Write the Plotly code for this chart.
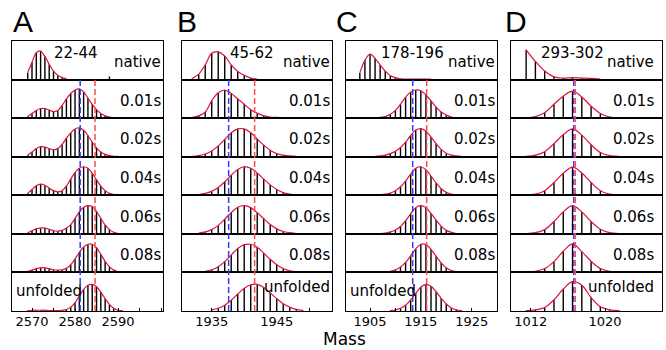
import plotly.graph_objects as go

# ---------------- data ----------------
row_names = ["native", "0.01s", "0.02s", "0.04s", "0.06s", "0.08s", "unfolded"]
peptides = ["22-44", "45-62", "178-196", "293-302"]
letters = ["A", "B", "C", "D"]

# Panel A (22-44)
A_mass = list(range(2567, 2593))
A_native = [0, 0, 0.18, 0.45, 0.70, 0.74, 0.60, 0.40, 0.22, 0.11, 0.05, 0.02, 0, 0, 0, 0, 0, 0, 0, 0, 0, 0, 0, 0, 0, 0]
A_001 = [0, 0, 0.04, 0.12, 0.20, 0.25, 0.25, 0.21, 0.17, 0.20, 0.33, 0.50, 0.64, 0.73, 0.76, 0.68, 0.52, 0.36, 0.22, 0.12, 0.06, 0.03, 0.01, 0.01, 0.01, 0]
A_002 = [0, 0, 0.04, 0.12, 0.21, 0.26, 0.25, 0.21, 0.18, 0.21, 0.32, 0.48, 0.62, 0.72, 0.75, 0.69, 0.55, 0.38, 0.23, 0.12, 0.06, 0.03, 0.01, 0.01, 0, 0]
A_004 = [0, 0, 0.05, 0.15, 0.25, 0.29, 0.26, 0.19, 0.12, 0.09, 0.12, 0.24, 0.42, 0.59, 0.70, 0.74, 0.70, 0.57, 0.40, 0.24, 0.12, 0.05, 0.02, 0.01, 0, 0]
A_006 = [0, 0, 0.03, 0.08, 0.13, 0.15, 0.15, 0.12, 0.08, 0.07, 0.09, 0.15, 0.24, 0.40, 0.57, 0.69, 0.73, 0.71, 0.58, 0.40, 0.23, 0.11, 0.04, 0.01, 0, 0]
A_008 = [0, 0, 0.02, 0.06, 0.10, 0.12, 0.12, 0.10, 0.07, 0.06, 0.07, 0.11, 0.20, 0.35, 0.52, 0.66, 0.73, 0.73, 0.64, 0.47, 0.29, 0.15, 0.06, 0.02, 0.01, 0]
A_unf = [0, 0, 0.01, 0.02, 0.02, 0.02, 0.02, 0.01, 0.01, 0.01, 0.02, 0.04, 0.10, 0.22, 0.39, 0.56, 0.67, 0.69, 0.63, 0.49, 0.32, 0.17, 0.07, 0.02, 0.01, 0]
A_rows = [A_native, A_001, A_002, A_004, A_006, A_008, A_unf]
A_extra_mass = [2588]
A_extra_height = [0.08]
A_ticks = [2570, 2580, 2590]
A_range = [2565.35, 2600.45]
A_centroids = [2581.2, 2584.65]

# Panel B (45-62)
B_mass = list(range(1931, 1951))
B_native = [0, 0.03, 0.14, 0.38, 0.68, 0.72, 0.61, 0.38, 0.21, 0.11, 0.04, 0.01, 0, 0, 0, 0, 0, 0, 0, 0]
B_001 = [0, 0.02, 0.06, 0.16, 0.45, 0.66, 0.73, 0.64, 0.50, 0.36, 0.22, 0.13, 0.06, 0.03, 0.02, 0.01, 0, 0, 0, 0]
B_002 = [0, 0.01, 0.03, 0.07, 0.15, 0.28, 0.45, 0.62, 0.72, 0.72, 0.62, 0.46, 0.30, 0.17, 0.08, 0.04, 0.02, 0.01, 0, 0]
B_004 = [0, 0, 0.02, 0.05, 0.10, 0.20, 0.35, 0.52, 0.67, 0.74, 0.70, 0.58, 0.42, 0.27, 0.15, 0.07, 0.03, 0.01, 0, 0]
B_006 = [0, 0, 0.02, 0.05, 0.11, 0.22, 0.38, 0.55, 0.69, 0.73, 0.68, 0.55, 0.39, 0.24, 0.13, 0.06, 0.03, 0.01, 0, 0]
B_008 = [0, 0, 0, 0.03, 0.07, 0.15, 0.28, 0.45, 0.62, 0.72, 0.73, 0.65, 0.50, 0.34, 0.20, 0.10, 0.04, 0.02, 0, 0]
B_unf = [0, 0, 0, 0, 0.03, 0.07, 0.15, 0.28, 0.44, 0.59, 0.68, 0.69, 0.61, 0.47, 0.32, 0.19, 0.10, 0.04, 0.02, 0]
B_rows = [B_native, B_001, B_002, B_004, B_006, B_008, B_unf]
B_extra_mass = []
B_extra_height = []
B_ticks = [1935, 1945]
B_range = [1930.43, 1953.5]
B_centroids = [1937.6, 1941.6]

# Panel C (178-196)
C_mass = list(range(1902, 1926))
C_native = [0, 0.17, 0.50, 0.66, 0.55, 0.38, 0.22, 0.10, 0.05, 0.02, 0.01, 0.01, 0.01, 0.01, 0.01, 0.01, 0, 0, 0, 0, 0, 0, 0, 0]
C_001 = [0, 0, 0, 0, 0.01, 0.02, 0.04, 0.10, 0.20, 0.36, 0.54, 0.68, 0.73, 0.71, 0.60, 0.45, 0.29, 0.16, 0.08, 0.03, 0.01, 0, 0, 0]
C_002 = [0, 0, 0, 0, 0.01, 0.02, 0.04, 0.08, 0.14, 0.24, 0.38, 0.55, 0.69, 0.73, 0.66, 0.51, 0.34, 0.19, 0.09, 0.04, 0.02, 0.01, 0, 0]
C_004 = [0, 0, 0, 0, 0, 0.01, 0.03, 0.06, 0.12, 0.22, 0.37, 0.55, 0.70, 0.74, 0.66, 0.50, 0.32, 0.17, 0.08, 0.03, 0.01, 0, 0, 0]
C_006 = [0, 0, 0, 0, 0, 0.01, 0.02, 0.05, 0.10, 0.19, 0.34, 0.52, 0.68, 0.73, 0.68, 0.53, 0.36, 0.20, 0.09, 0.04, 0.01, 0, 0, 0]
C_008 = [0, 0, 0, 0, 0, 0, 0.01, 0.03, 0.07, 0.14, 0.26, 0.43, 0.61, 0.73, 0.72, 0.60, 0.42, 0.25, 0.12, 0.05, 0.02, 0.01, 0, 0]
C_unf = [0, 0, 0, 0, 0, 0, 0, 0.01, 0.03, 0.07, 0.15, 0.29, 0.46, 0.62, 0.69, 0.64, 0.50, 0.33, 0.18, 0.08, 0.03, 0.01, 0, 0]
C_rows = [C_native, C_001, C_002, C_004, C_006, C_008, C_unf]
C_extra_mass = []
C_extra_height = []
C_ticks = [1905, 1915, 1925]
C_range = [1900.28, 1929.98]
C_centroids = [1913.4, 1916.15]

# Panel D (293-302)
D_mass = [1010.5, 1011.5, 1012.5, 1013.5, 1014.5, 1015.5, 1016.5, 1017.5, 1018.5, 1019.5, 1020.5, 1021.5, 1022.5, 1023.5]
D_native = [0, 0.77, 0.47, 0.22, 0.07, 0.04, 0.05, 0.04, 0.03, 0.01, 0, 0, 0, 0]
D_001 = [0, 0.01, 0.04, 0.14, 0.36, 0.57, 0.70, 0.55, 0.31, 0.12, 0.03, 0.01, 0, 0]
D_002 = [0, 0.01, 0.04, 0.13, 0.34, 0.57, 0.72, 0.56, 0.31, 0.11, 0.03, 0.01, 0, 0]
D_004 = [0, 0.01, 0.03, 0.12, 0.33, 0.57, 0.73, 0.58, 0.33, 0.12, 0.03, 0.01, 0, 0]
D_006 = [0, 0.01, 0.03, 0.11, 0.32, 0.57, 0.73, 0.57, 0.32, 0.12, 0.03, 0.01, 0, 0]
D_008 = [0, 0.01, 0.03, 0.10, 0.28, 0.55, 0.74, 0.54, 0.29, 0.10, 0.03, 0.01, 0, 0]
D_unf = [0, 0.01, 0.03, 0.09, 0.29, 0.57, 0.76, 0.67, 0.35, 0.11, 0.03, 0.01, 0, 0]
D_rows = [D_native, D_001, D_002, D_004, D_006, D_008, D_unf]
D_extra_mass = []
D_extra_height = []
D_ticks = [1012, 1020]
D_range = [1009.87, 1026.14]
D_centroids = [1016.63, 1016.8]

# ---------------- layout / style ----------------
W, H = 666, 350
FONT = "DejaVu Sans"
col_px = [(12, 163), (182, 332), (346, 497), (511, 662)]
ROW_TOP, ROW_BOT, NROW = 41, 311, 7
RH = (ROW_BOT - ROW_TOP) / NROW
label_right = [0.998, 1.0, 0.999, 0.962]
peptide_x = [0.424, 0.465, 0.44, 0.407]
unfolded_left = [True, False, True, False]
minor_dtick = [5, 5, 5, None]

panels = [
    (A_mass, A_rows, A_extra_mass, A_extra_height, A_ticks, A_range, A_centroids),
    (B_mass, B_rows, B_extra_mass, B_extra_height, B_ticks, B_range, B_centroids),
    (C_mass, C_rows, C_extra_mass, C_extra_height, C_ticks, C_range, C_centroids),
    (D_mass, D_rows, D_extra_mass, D_extra_height, D_ticks, D_range, D_centroids),
]

STICK = "black"
CURVE = "#dc143c"
BLUE = "#3a3aff"
RED = "#ff4a4a"

fig = go.Figure()
layout = dict(
    width=W, height=H, margin=dict(l=0, r=0, t=0, b=0),
    paper_bgcolor="white", plot_bgcolor="white", showlegend=False,
    font=dict(family=FONT, color="black"),
)
annotations = []
shapes = []


def py(p):
    return 1 - p / H


for c, (mass, rows, exm, exh, ticks, xr, cents) in enumerate(panels):
    x0p, x1p = col_px[c]
    for r in range(NROW):
        k = c * NROW + r + 1
        xa = "x" if k == 1 else f"x{k}"
        ya = "y" if k == 1 else f"y{k}"
        top = ROW_TOP + r * RH
        bot = top + RH
        heights = rows[r]
        # sticks
        sx, sy = [], []
        for m, h in zip(list(mass) + (exm if r == 0 else []), list(heights) + (exh if r == 0 else [])):
            if h > 0:
                sx += [m, m, None]
                sy += [0, h, None]
        fig.add_trace(go.Scatter(x=sx, y=sy, mode="lines", xaxis=xa, yaxis=ya,
                                 line=dict(color=STICK, width=1.4), hoverinfo="skip"))
        # fitted envelope
        nz = [i for i, h in enumerate(heights) if h > 0]
        i0, i1 = nz[0], nz[-1]
        fig.add_trace(go.Scatter(x=mass[i0:i1 + 1], y=heights[i0:i1 + 1], mode="lines",
                                 xaxis=xa, yaxis=ya,
                                 line=dict(color=CURVE, width=1.2, shape="spline", smoothing=1.0),
                                 hoverinfo="skip"))
        bottom = r == NROW - 1
        xaxis = dict(domain=[x0p / W, x1p / W], range=xr, anchor=ya,
                     showline=True, mirror=True, linecolor="black", linewidth=1.2,
                     showgrid=False, zeroline=False, fixedrange=True)
        if bottom:
            xaxis.update(tickmode="array", tickvals=ticks, ticktext=[str(t) for t in ticks],
                         ticks="inside", ticklen=3, tickcolor="black",
                         ticklabelstandoff=-2,
                         tickfont=dict(family=FONT, size=13, color="black"))
            if minor_dtick[c]:
                xaxis["minor"] = dict(tickmode="linear", tick0=ticks[0], dtick=minor_dtick[c],
                                      ticks="inside", ticklen=3, tickcolor="black")
        else:
            xaxis.update(showticklabels=False, ticks="")
        yaxis = dict(domain=[py(bot), py(top)], range=[0, 1], anchor=xa,
                     showline=True, mirror=True, linecolor="black", linewidth=1.2,
                     showgrid=False, zeroline=False, showticklabels=False, ticks="",
                     fixedrange=True)
        layout["xaxis" if k == 1 else f"xaxis{k}"] = xaxis
        layout["yaxis" if k == 1 else f"yaxis{k}"] = yaxis

        # row label
        name = row_names[r]
        if r == NROW - 1 and unfolded_left[c]:
            annotations.append(dict(text=name, xref=f"{xa} domain", yref=f"{ya} domain",
                                    x=0.012, y=0.53, xanchor="left", yanchor="middle",
                                    showarrow=False, font=dict(family=FONT, size=15, color="black")))
        else:
            yy = 0.46 if r == 0 else (0.61 if r == NROW - 1 else 0.45)
            annotations.append(dict(text=name, xref=f"{xa} domain", yref=f"{ya} domain",
                                    x=label_right[c], y=yy, xanchor="right", yanchor="middle",
                                    showarrow=False, font=dict(family=FONT, size=15, color="black")))
        if r == 0:
            annotations.append(dict(text=peptides[c], xref=f"{xa} domain", yref=f"{ya} domain",
                                    x=peptide_x[c], y=0.68, xanchor="center", yanchor="middle",
                                    showarrow=False, font=dict(family=FONT, size=15, color="black")))

    # centroid dashed lines across rows 2..7
    k2 = c * NROW + 2
    for val, col in zip(cents, [BLUE, RED]):
        shapes.append(dict(type="line", xref=f"x{k2}", yref="paper", x0=val, x1=val,
                           y0=py(ROW_BOT), y1=py(ROW_TOP + RH), layer="above",
                           line=dict(color=col, width=1.5, dash="6px,3px")))
    # panel letter
    annotations.append(dict(text=letters[c], xref="paper", yref="paper",
                            x=[11, 175, 334, 503][c] / W, y=py(22), xanchor="left", yanchor="middle",
                            showarrow=False, font=dict(family="Liberation Sans", size=30, color="black")))

annotations.append(dict(text="Mass", xref="paper", yref="paper", x=344 / W, y=py(339),
                        xanchor="center", yanchor="middle", showarrow=False,
                        font=dict(family=FONT, size=17, color="black")))

layout["annotations"] = annotations
layout["shapes"] = shapes
fig.update_layout(**layout)
fig.write_html("out.html", config={"displayModeBar": False},
               post_script="document.body.style.margin='0';document.body.style.padding='0';")
